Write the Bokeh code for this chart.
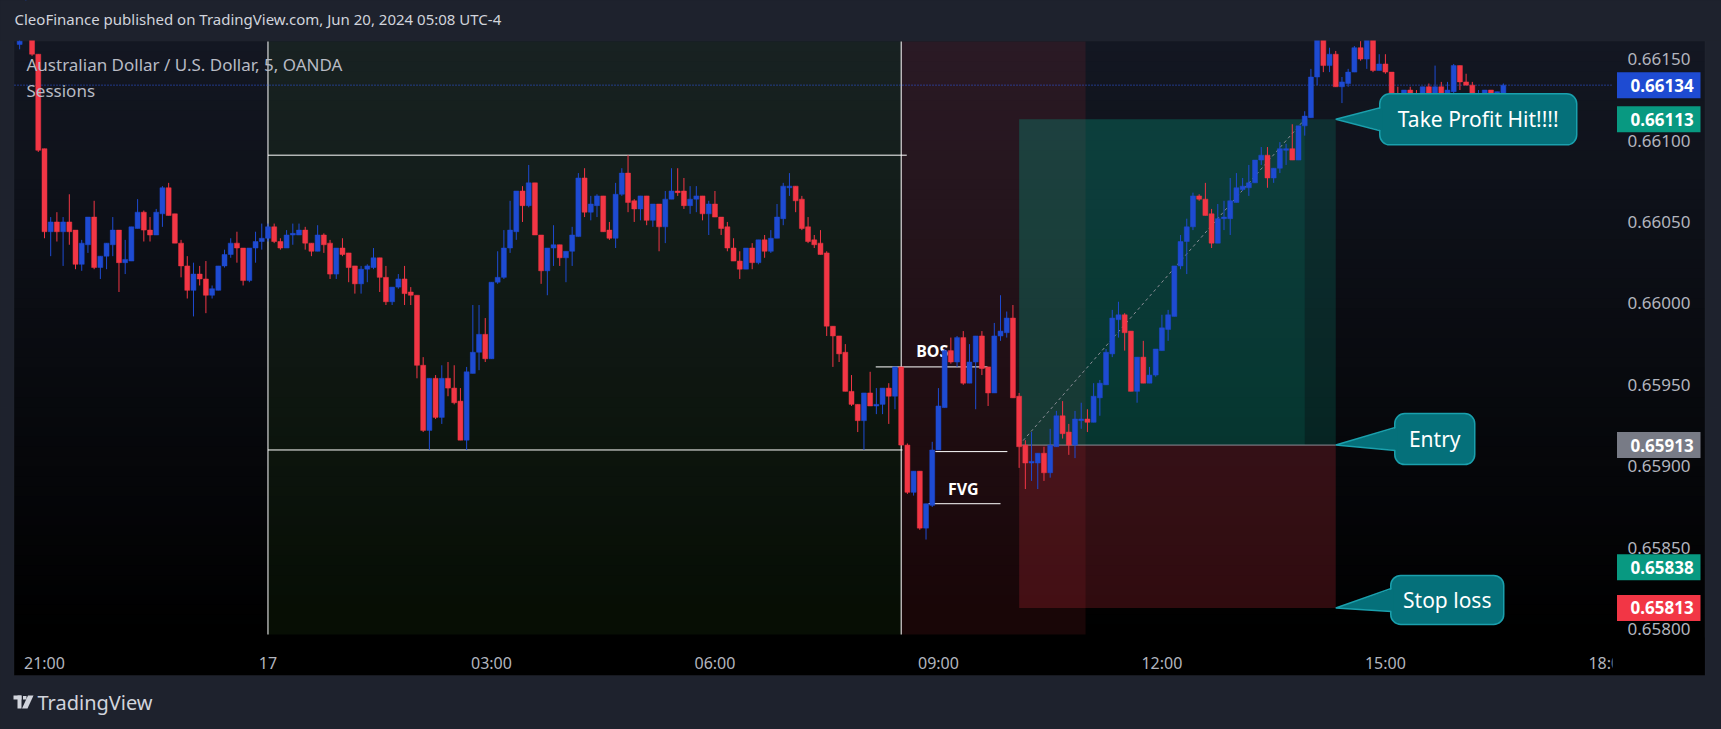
import numpy as np
from bokeh.plotting import figure
from bokeh.models import (Range1d, FixedTicker, NumeralTickFormatter, Label, LinearAxis,
                          BoxAnnotation, PolyAnnotation, ColumnDataSource)
from bokeh.core.properties import value
from bokeh.embed import file_html
from bokeh.resources import INLINE

# ------------------------------------------------------------------ data
# AUD/USD, 5-minute bars. Bar 0 = Jun 17 00:00, first bar = Jun 16 20:40
first_bar = -40
open_ = [
    0.66159, 0.66163, 0.66178, 0.66153, 0.66095, 0.66044, 0.66050, 0.66044, 0.66050, 0.66045, 0.66024, 0.66036,
    0.66053, 0.66022, 0.66029, 0.66036, 0.66045, 0.66025, 0.66026, 0.66046, 0.66056, 0.66045, 0.66042, 0.66055,
    0.66071, 0.66055, 0.66037, 0.66023, 0.66008, 0.66018, 0.66015, 0.66005, 0.66008, 0.66023, 0.66030, 0.66037,
    0.66034, 0.66014, 0.66034, 0.66038, 0.66040, 0.66047, 0.66038, 0.66034, 0.66042, 0.66042, 0.66045, 0.66037,
    0.66032, 0.66042, 0.66037, 0.66018, 0.66034, 0.66031, 0.66023, 0.66012, 0.66021, 0.66022, 0.66028, 0.66016,
    0.66001, 0.66010, 0.66015, 0.66007, 0.66005, 0.65962, 0.65922, 0.65954, 0.65930, 0.65954, 0.65948, 0.65940,
    0.65916, 0.65957, 0.65970, 0.65981, 0.65966, 0.66013, 0.66016, 0.66034, 0.66044, 0.66069, 0.66060, 0.66074,
    0.66042, 0.66020, 0.66034, 0.66036, 0.66028, 0.66032, 0.66041, 0.66077, 0.66056, 0.66060, 0.66066, 0.66045,
    0.66040, 0.66067, 0.66080, 0.66063, 0.66058, 0.66066, 0.66051, 0.66061, 0.66047, 0.66064, 0.66069, 0.66069,
    0.66060, 0.66064, 0.66066, 0.66055, 0.66061, 0.66053, 0.66047, 0.66034, 0.66026, 0.66021, 0.66034, 0.66025,
    0.66039, 0.66032, 0.66040, 0.66052, 0.66071, 0.66072, 0.66064, 0.66047, 0.66039, 0.66037, 0.66031, 0.65986,
    0.65980, 0.65970, 0.65946, 0.65938, 0.65928, 0.65945, 0.65937, 0.65938, 0.65948, 0.65943, 0.65961, 0.65913,
    0.65884, 0.65897, 0.65862, 0.65876, 0.65910, 0.65936, 0.65971, 0.65964, 0.65979, 0.65951, 0.65964, 0.65980,
    0.65961, 0.65945, 0.65980, 0.65982, 0.65991, 0.65943, 0.65913, 0.65902, 0.65902, 0.65908, 0.65896, 0.65912,
    0.65931, 0.65921, 0.65913, 0.65928, 0.65929, 0.65927, 0.65942, 0.65950, 0.65969, 0.65990, 0.65993, 0.65983,
    0.65946, 0.65967, 0.65951, 0.65956, 0.65971, 0.65984, 0.65992, 0.66023, 0.66038, 0.66047, 0.66066, 0.66064,
    0.66055, 0.66037, 0.66052, 0.66052, 0.66062, 0.66070, 0.66071, 0.66074, 0.66088, 0.66091, 0.66077, 0.66083,
    0.66094, 0.66095, 0.66088, 0.66109, 0.66114, 0.66139, 0.66166, 0.66146, 0.66153, 0.66133, 0.66135, 0.66142,
    0.66157, 0.66150, 0.66165, 0.66143, 0.66147, 0.66142, 0.66128, 0.66125, 0.66131, 0.66126, 0.66124, 0.66133,
    0.66124, 0.66133, 0.66129, 0.66130, 0.66146, 0.66136, 0.66134, 0.66125, 0.66126, 0.66131, 0.66128, 0.66129,
]
high_ = [
    0.66172, 0.66190, 0.66182, 0.66153, 0.66095, 0.66053, 0.66056, 0.66053, 0.66067, 0.66045, 0.66039, 0.66053,
    0.66063, 0.66029, 0.66037, 0.66053, 0.66045, 0.66039, 0.66047, 0.66064, 0.66057, 0.66053, 0.66058, 0.66072,
    0.66074, 0.66055, 0.66039, 0.66029, 0.66025, 0.66023, 0.66026, 0.66011, 0.66023, 0.66033, 0.66040, 0.66044,
    0.66034, 0.66034, 0.66044, 0.66049, 0.66049, 0.66049, 0.66040, 0.66045, 0.66049, 0.66049, 0.66047, 0.66037,
    0.66048, 0.66043, 0.66039, 0.66034, 0.66040, 0.66031, 0.66023, 0.66023, 0.66024, 0.66034, 0.66028, 0.66023,
    0.66010, 0.66018, 0.66023, 0.66010, 0.66005, 0.65967, 0.65954, 0.65956, 0.65962, 0.65964, 0.65962, 0.65948,
    0.65961, 0.65999, 0.65999, 0.65991, 0.66013, 0.66032, 0.66045, 0.66063, 0.66069, 0.66072, 0.66085, 0.66074,
    0.66042, 0.66034, 0.66048, 0.66036, 0.66032, 0.66047, 0.66080, 0.66083, 0.66066, 0.66067, 0.66066, 0.66050,
    0.66074, 0.66083, 0.66091, 0.66064, 0.66066, 0.66066, 0.66061, 0.66061, 0.66069, 0.66083, 0.66083, 0.66077,
    0.66072, 0.66072, 0.66066, 0.66063, 0.66069, 0.66053, 0.66050, 0.66040, 0.66032, 0.66034, 0.66037, 0.66039,
    0.66042, 0.66045, 0.66061, 0.66074, 0.66080, 0.66072, 0.66066, 0.66053, 0.66042, 0.66045, 0.66032, 0.65986,
    0.65980, 0.65975, 0.65956, 0.65938, 0.65945, 0.65958, 0.65948, 0.65948, 0.65951, 0.65961, 0.65961, 0.65914,
    0.65897, 0.65897, 0.65877, 0.65915, 0.65948, 0.65972, 0.65979, 0.65980, 0.65983, 0.65975, 0.65980, 0.65983,
    0.65961, 0.65988, 0.66005, 0.65995, 0.65999, 0.65945, 0.65916, 0.65921, 0.65908, 0.65912, 0.65923, 0.65934,
    0.65940, 0.65926, 0.65934, 0.65939, 0.65935, 0.65951, 0.65953, 0.65972, 0.65996, 0.66001, 0.65994, 0.65983,
    0.65967, 0.65977, 0.65961, 0.65972, 0.65993, 0.65996, 0.66023, 0.66042, 0.66052, 0.66068, 0.66067, 0.66074,
    0.66058, 0.66061, 0.66063, 0.66077, 0.66080, 0.66077, 0.66085, 0.66088, 0.66096, 0.66096, 0.66083, 0.66099,
    0.66098, 0.66110, 0.66109, 0.66118, 0.66144, 0.66170, 0.66168, 0.66157, 0.66155, 0.66139, 0.66144, 0.66158,
    0.66161, 0.66169, 0.66167, 0.66153, 0.66153, 0.66142, 0.66133, 0.66131, 0.66133, 0.66131, 0.66133, 0.66135,
    0.66146, 0.66136, 0.66136, 0.66147, 0.66146, 0.66141, 0.66136, 0.66131, 0.66131, 0.66131, 0.66130, 0.66135,
]
low_ = [
    0.66156, 0.66162, 0.66152, 0.66093, 0.66040, 0.66029, 0.66038, 0.66023, 0.66036, 0.66021, 0.66020, 0.66031,
    0.66021, 0.66015, 0.66021, 0.66029, 0.66007, 0.66018, 0.66026, 0.66046, 0.66038, 0.66038, 0.66042, 0.66047,
    0.66054, 0.66037, 0.66016, 0.66003, 0.65992, 0.66011, 0.65994, 0.66003, 0.66008, 0.66022, 0.66028, 0.66025,
    0.66011, 0.66013, 0.66025, 0.66033, 0.66038, 0.66037, 0.66033, 0.66034, 0.66036, 0.66042, 0.66033, 0.66029,
    0.66032, 0.66031, 0.66015, 0.66015, 0.66029, 0.66013, 0.66006, 0.66006, 0.66013, 0.66021, 0.66007, 0.65999,
    0.65999, 0.66009, 0.65999, 0.65999, 0.65954, 0.65921, 0.65910, 0.65929, 0.65926, 0.65943, 0.65938, 0.65916,
    0.65910, 0.65957, 0.65959, 0.65964, 0.65966, 0.66012, 0.66015, 0.66031, 0.66039, 0.66050, 0.66059, 0.66042,
    0.66012, 0.66005, 0.66023, 0.66023, 0.66013, 0.66023, 0.66041, 0.66053, 0.66051, 0.66053, 0.66044, 0.66039,
    0.66034, 0.66066, 0.66056, 0.66050, 0.66051, 0.66048, 0.66047, 0.66032, 0.66037, 0.66064, 0.66066, 0.66058,
    0.66055, 0.66056, 0.66051, 0.66042, 0.66053, 0.66042, 0.66032, 0.66026, 0.66015, 0.66021, 0.66021, 0.66024,
    0.66028, 0.66031, 0.66040, 0.66048, 0.66066, 0.66056, 0.66045, 0.66037, 0.66034, 0.66030, 0.65980, 0.65961,
    0.65964, 0.65946, 0.65937, 0.65921, 0.65910, 0.65937, 0.65932, 0.65932, 0.65926, 0.65935, 0.65913, 0.65883,
    0.65882, 0.65861, 0.65855, 0.65875, 0.65910, 0.65936, 0.65963, 0.65961, 0.65950, 0.65951, 0.65935, 0.65956,
    0.65937, 0.65945, 0.65977, 0.65979, 0.65942, 0.65899, 0.65886, 0.65891, 0.65886, 0.65891, 0.65893, 0.65912,
    0.65917, 0.65907, 0.65905, 0.65923, 0.65921, 0.65927, 0.65931, 0.65950, 0.65967, 0.65979, 0.65971, 0.65946,
    0.65939, 0.65951, 0.65951, 0.65955, 0.65971, 0.65977, 0.65992, 0.66021, 0.66018, 0.66045, 0.66063, 0.66054,
    0.66034, 0.66037, 0.66045, 0.66042, 0.66062, 0.66069, 0.66066, 0.66074, 0.66085, 0.66071, 0.66074, 0.66080,
    0.66085, 0.66088, 0.66088, 0.66103, 0.66114, 0.66134, 0.66142, 0.66142, 0.66133, 0.66123, 0.66133, 0.66142,
    0.66149, 0.66144, 0.66142, 0.66143, 0.66141, 0.66126, 0.66120, 0.66120, 0.66123, 0.66117, 0.66120, 0.66120,
    0.66124, 0.66125, 0.66123, 0.66127, 0.66131, 0.66134, 0.66125, 0.66124, 0.66125, 0.66127, 0.66125, 0.66129,
]
close_ = [
    0.66161, 0.66180, 0.66153, 0.66094, 0.66044, 0.66050, 0.66044, 0.66050, 0.66044, 0.66024, 0.66037, 0.66053,
    0.66022, 0.66029, 0.66037, 0.66045, 0.66025, 0.66027, 0.66047, 0.66056, 0.66045, 0.66042, 0.66056, 0.66071,
    0.66054, 0.66037, 0.66023, 0.66008, 0.66018, 0.66015, 0.66005, 0.66009, 0.66023, 0.66030, 0.66037, 0.66034,
    0.66014, 0.66034, 0.66038, 0.66040, 0.66047, 0.66038, 0.66034, 0.66042, 0.66043, 0.66045, 0.66037, 0.66032,
    0.66042, 0.66036, 0.66018, 0.66034, 0.66030, 0.66022, 0.66012, 0.66021, 0.66023, 0.66028, 0.66016, 0.66001,
    0.66010, 0.66015, 0.66006, 0.66005, 0.65962, 0.65922, 0.65954, 0.65930, 0.65954, 0.65948, 0.65939, 0.65916,
    0.65958, 0.65970, 0.65981, 0.65966, 0.66013, 0.66016, 0.66034, 0.66045, 0.66069, 0.66060, 0.66074, 0.66042,
    0.66020, 0.66034, 0.66036, 0.66028, 0.66032, 0.66042, 0.66077, 0.66056, 0.66061, 0.66066, 0.66044, 0.66040,
    0.66067, 0.66080, 0.66062, 0.66058, 0.66066, 0.66051, 0.66061, 0.66047, 0.66064, 0.66069, 0.66068, 0.66060,
    0.66064, 0.66066, 0.66055, 0.66061, 0.66053, 0.66046, 0.66034, 0.66026, 0.66021, 0.66034, 0.66025, 0.66039,
    0.66032, 0.66040, 0.66053, 0.66072, 0.66072, 0.66063, 0.66046, 0.66038, 0.66036, 0.66030, 0.65986, 0.65980,
    0.65969, 0.65946, 0.65938, 0.65928, 0.65945, 0.65937, 0.65938, 0.65948, 0.65943, 0.65961, 0.65913, 0.65884,
    0.65897, 0.65862, 0.65877, 0.65910, 0.65937, 0.65971, 0.65964, 0.65979, 0.65951, 0.65964, 0.65980, 0.65960,
    0.65945, 0.65980, 0.65983, 0.65991, 0.65942, 0.65912, 0.65902, 0.65903, 0.65908, 0.65896, 0.65913, 0.65931,
    0.65920, 0.65913, 0.65929, 0.65929, 0.65927, 0.65943, 0.65951, 0.65970, 0.65991, 0.65993, 0.65982, 0.65946,
    0.65967, 0.65951, 0.65956, 0.65972, 0.65985, 0.65993, 0.66023, 0.66038, 0.66047, 0.66066, 0.66064, 0.66054,
    0.66037, 0.66052, 0.66053, 0.66063, 0.66071, 0.66072, 0.66074, 0.66088, 0.66091, 0.66077, 0.66083, 0.66095,
    0.66095, 0.66088, 0.66109, 0.66115, 0.66139, 0.66166, 0.66146, 0.66153, 0.66133, 0.66136, 0.66142, 0.66157,
    0.66150, 0.66165, 0.66143, 0.66147, 0.66142, 0.66127, 0.66125, 0.66131, 0.66126, 0.66124, 0.66133, 0.66124,
    0.66133, 0.66129, 0.66131, 0.66146, 0.66136, 0.66134, 0.66125, 0.66126, 0.66131, 0.66128, 0.66130, 0.66134,
]

time_tick_bars = [-36, 0, 36, 72, 108, 144, 180, 216]
time_tick_labels = ["21:00", "17", "03:00", "06:00", "09:00", "12:00", "15:00", "18:00"]
price_ticks = [0.65800, 0.65850, 0.65900, 0.65950, 0.66000, 0.66050, 0.66100, 0.66150]

asia_bars = [0, 102]
asia_high, asia_high_end = 0.66091, 102.9
asia_low, asia_low_end = 0.65910, 102.2
london_bars = [102, 131.7]

entry_price, target_price, stop_price = 0.65913, 0.66113, 0.65813
position_bars = [121, 172]
target_hit_bar = 167
last_price = 0.66134
marker_price = 0.65838

bos_price, bos_bars = 0.65961, [97.9, 115.9]
bos_label_at = (107, 0.65971)
fvg_top_price, fvg_top_bars = 0.65909, [107.5, 119.1]
fvg_bottom_price, fvg_bottom_bars = 0.65877, [106.4, 118.0]
fvg_label_at = (112, 0.65886)

axis_label_prices = [last_price, target_price, entry_price, marker_price, stop_price]
axis_label_colors = ["#1e4bd2", "#089981", "#787b86", "#089981", "#f23645"]

callout_texts = ["Take Profit Hit!!!!", "Entry", "Stop loss"]
callout_prices = [target_price, entry_price, stop_price]

# ------------------------------------------------------------------ layout (canvas px)
W, H = 1721, 729
FL, FT, FW, FH = 14, 41, 1598, 593       # price-chart area inside the canvas
X0, X1 = -40.83, 216.58                  # bar index at the chart-area edges
Y0, Y1 = 0.657967, 0.661608              # price at the chart-area edges
PXX = FW / (X1 - X0)
PXY = FH / (Y1 - Y0)
CX0 = X0 - FL / PXX
CX1 = CX0 + W / PXX
CY1 = Y1 + FT / PXY
CY0 = CY1 - H / PXY


def dx(px):  # canvas px -> data x
    return CX0 + px / PXX


def dy(py):  # canvas px -> data y
    return CY1 - py / PXY


def sx(x):
    return (x - CX0) * PXX


def sy(y):
    return (CY1 - y) * PXY


UP, DOWN = "#1e4bd2", "#f23645"
FONT = "Noto Sans"
OUTER = "#1e222d"

p = figure(width=W, height=H, output_backend="svg", toolbar_location=None,
           x_range=Range1d(CX0, CX1), y_range=Range1d(CY0, CY1),
           y_axis_location="right", min_border=0)
p.border_fill_color = OUTER
p.background_fill_color = OUTER
p.outline_line_color = None
p.grid.visible = False


def box(l, r, t, b, color, alpha=1.0, level="underlay"):
    p.add_layout(BoxAnnotation(left=dx(l), right=dx(r), top=dy(t), bottom=dy(b),
                               fill_color=color, fill_alpha=alpha, line_color=None,
                               level=level))


# panel background gradient (#131722 -> black), time-scale strip black
PL, PR, PT, PB = 13.5, 1704.5, 40.5, 675
n_bands = 60
edges = np.linspace(FT, FT + FH, n_bands + 1)
edges[0] = PT
for k in range(n_bands):
    t = (k + 0.5) / n_bands
    r, g, b = [int(round(v * (1 - t))) for v in (19, 23, 34)]
    box(PL, PR, edges[k], edges[k + 1] + 1, "#%02x%02x%02x" % (r, g, b))
box(PL, PR, FT + FH, PB, "#000000")
p.add_layout(BoxAnnotation(left=dx(PL), right=dx(PR), top=dy(PT), bottom=dy(PB),
                           fill_alpha=0, line_color="#2a2e39", line_width=1, level="underlay"))

# sessions
p.add_layout(BoxAnnotation(left=asia_bars[0], right=asia_bars[1], top=Y1, bottom=Y0,
                           fill_color="#468c28", fill_alpha=0.1, line_color=None,
                           level="underlay"))
p.add_layout(BoxAnnotation(left=london_bars[0], right=london_bars[1], top=Y1, bottom=Y0,
                           fill_color="#f23645", fill_alpha=0.1, line_color=None,
                           level="underlay"))

# long position tool
p.add_layout(BoxAnnotation(left=position_bars[0], right=position_bars[1], bottom=entry_price,
                           top=target_price, fill_color="#089981", fill_alpha=0.2,
                           line_color=None, level="underlay"))
p.add_layout(BoxAnnotation(left=position_bars[0], right=target_hit_bar, bottom=entry_price,
                           top=target_price, fill_color="#089981", fill_alpha=0.15,
                           line_color=None, level="underlay"))
p.add_layout(BoxAnnotation(left=position_bars[0], right=position_bars[1], bottom=stop_price,
                           top=entry_price, fill_color="#f23645", fill_alpha=0.2,
                           line_color=None, level="underlay"))

# price-scale label boxes
for pr, col in zip(axis_label_prices, axis_label_colors):
    box(1616.5, 1700, sy(pr) - 13, sy(pr) + 13, col)

# session dividers, current price line
p.segment(x0=asia_bars, y0=[Y0, Y0], x1=asia_bars, y1=[Y1, Y1],
          line_color="white", line_width=1)
p.segment(x0=[X0], y0=[last_price], x1=[X1], y1=[last_price],
          line_color="#2f5cf0", line_width=1, line_dash="1 2")

# session high / low, BOS, FVG
p.segment(x0=[asia_bars[0], asia_bars[0]], y0=[asia_high, asia_low],
          x1=[asia_high_end, asia_low_end], y1=[asia_high, asia_low],
          line_color="white", line_width=1)
p.segment(x0=[bos_bars[0], fvg_top_bars[0], fvg_bottom_bars[0]],
          y0=[bos_price, fvg_top_price, fvg_bottom_price],
          x1=[bos_bars[1], fvg_top_bars[1], fvg_bottom_bars[1]],
          y1=[bos_price, fvg_top_price, fvg_bottom_price],
          line_color="white", line_width=1)
p.text(x=[bos_label_at[0], fvg_label_at[0]], y=[bos_label_at[1], fvg_label_at[1]],
       text=["BOS", "FVG"], text_font=value(FONT), text_font_style="bold",
       text_font_size="16px", text_color="white", text_align="center",
       text_baseline="middle")

# entry line and path to target
p.segment(x0=[position_bars[0]], y0=[entry_price], x1=[position_bars[1]], y1=[entry_price],
          line_color="#8a8d96", line_width=1)
p.segment(x0=[position_bars[0]], y0=[entry_price], x1=[target_hit_bar], y1=[target_price],
          line_color="#8a8d96", line_width=1, line_dash="3 3")

# candles
o = np.array(open_); h = np.array(high_); l = np.array(low_); c = np.array(close_)
bars = np.arange(first_bar, first_bar + len(o))
colors = np.where(c >= o, UP, DOWN)
src = ColumnDataSource(dict(x=bars, o=o, h=h, l=l, c=c, top=np.maximum(o, c),
                            bottom=np.minimum(o, c), color=colors))
p.segment(x0="x", y0="l", x1="x", y1="h", line_color="color", line_width=1, source=src)
p.vbar(x="x", width=0.8, top="top", bottom="bottom", fill_color="color",
       line_color="color", line_width=0.5, source=src)

# callouts
gap = [44, 59, 55]
bw = [197, 80, 113]
bh = [51, 51, 49]
shift = [0, -6, -8]
for txt, pr, g, w, hh, s in zip(callout_texts, callout_prices, gap, bw, bh, shift):
    tx, ty = sx(position_bars[1]), sy(pr)
    left = tx + g
    ccy = ty + s
    p.quad(left=[dx(left)], right=[dx(left + w)], top=[dy(ccy - hh / 2)],
           bottom=[dy(ccy + hh / 2)], fill_color="#05707a", line_color="#1aa0ad",
           line_width=1.5, border_radius=10)
    p.patch(x=[dx(tx), dx(left + 3), dx(left + 3)],
            y=[dy(ty), dy(ccy - 11.5), dy(ccy + 11.5)],
            fill_color="#05707a", line_color=None)
    p.line(x=[dx(left + 0.5), dx(tx), dx(left + 0.5)],
           y=[dy(ccy - 11.5), dy(ty), dy(ccy + 11.5)],
           line_color="#1aa0ad", line_width=1.5)
    p.text(x=[dx(left + w / 2)], y=[dy(ccy)], text=[txt], text_font=value(FONT),
           text_font_size="21px", text_color="white", text_align="center",
           text_baseline="middle")

# header strip (hides candle parts above the chart area), header, legend, footer
box(0, W, 0, 40, OUTER, level="overlay")
box(1612, 1704, 637, 674.5, "#000000", level="overlay")   # time scale ends at price scale
p.add_layout(Label(x=dx(14), y=dy(18.7),
                   text="CleoFinance published on TradingView.com, Jun 20, 2024 05:08 UTC-4",
                   text_font=FONT, text_font_size="15px", text_color="#d1d4dc",
                   text_baseline="middle", level="overlay"))
p.add_layout(Label(x=dx(26), y=dy(63.7), text="Australian Dollar / U.S. Dollar, 5, OANDA",
                   text_font=FONT, text_font_size="17px", text_color="#b8bbc4",
                   text_baseline="middle", level="overlay"))
p.add_layout(Label(x=dx(26), y=dy(90), text="Sessions",
                   text_font=FONT, text_font_size="17px", text_color="#b8bbc4",
                   text_baseline="middle", level="overlay"))
p.add_layout(Label(x=dx(37), y=dy(702), text="TradingView",
                   text_font=FONT, text_font_size="20px", text_color="#d1d4dc",
                   text_baseline="middle", level="overlay"))
for pts in ([(13, 695), (21, 695), (21, 699), (13, 699)],
            [(17, 695), (21, 695), (21, 708), (17, 708)],
            [(22.5, 695.5), (26, 695.5), (26, 699), (22.5, 699)],
            [(27.5, 695), (33, 695), (27, 708), (21.5, 708)]):
    p.add_layout(PolyAnnotation(xs=[dx(a) for a, _ in pts], ys=[dy(b) for _, b in pts],
                                fill_color="#d1d4dc", fill_alpha=1, line_color=None,
                                level="overlay"))

# axes, drawn at the edges of the chart area
xax = p.xaxis[0]
yax = p.yaxis[0]
xax.ticker = FixedTicker(ticks=time_tick_bars)
xax.major_label_overrides = {b: s_ for b, s_ in zip(time_tick_bars, time_tick_labels)}
xax.fixed_location = Y0
yax.ticker = FixedTicker(ticks=price_ticks)
yax.formatter = NumeralTickFormatter(format="0.00000")
yax.fixed_location = X1
for ax in (xax, yax):
    ax.axis_line_color = None
    ax.major_tick_line_color = None
    ax.minor_tick_line_color = None
    ax.major_label_text_font = FONT
    ax.major_label_text_color = "#b2b5be"
xax.major_label_text_font_size = "16px"
yax.major_label_text_font_size = "17px"
xax.major_label_standoff = 11
yax.major_label_standoff = 9

price_axis = LinearAxis(ticker=FixedTicker(ticks=axis_label_prices),
                        formatter=NumeralTickFormatter(format="0.00000"),
                        fixed_location=X1, axis_line_color=None,
                        major_tick_line_color=None, minor_tick_line_color=None,
                        major_label_text_font=FONT, major_label_text_font_size="17px",
                        major_label_text_font_style="bold", major_label_text_color="white",
                        major_label_standoff=12)
p.add_layout(price_axis, "right")

html = file_html(p, INLINE)
html = html.replace("</head>",
                    "<style>html,body{margin:0;padding:0;overflow:hidden;"
                    "background-color:#1e222d;}</style></head>", 1)
open("out.html", "w").write(html)
